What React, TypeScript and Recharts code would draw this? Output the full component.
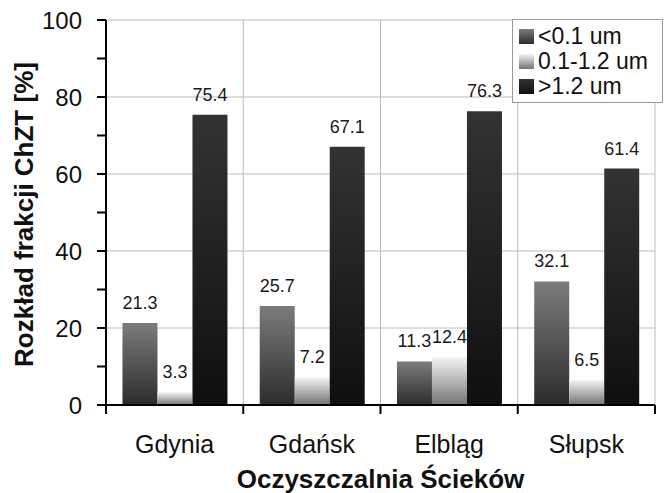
import React from "react";
import {
  Bar,
  BarChart,
  CartesianGrid,
  LabelList,
  Legend,
  XAxis,
  YAxis,
} from "recharts";

const plants = ["Gdynia", "Gdańsk", "Elbląg", "Słupsk"];
const fineShare = [21.3, 25.7, 11.3, 32.1];
const midShare = [3.3, 7.2, 12.4, 6.5];
const coarseShare = [75.4, 67.1, 76.3, 61.4];

const yTicks = [0, 10, 20, 30, 40, 50, 60, 70, 80, 90, 100];
const gridTicks = [20, 40, 60, 80, 100];
const Y_MAX = 100;

const SERIES = [
  { key: "fine", name: "<0.1 um", grad: "gFine" },
  { key: "mid", name: "0.1-1.2 um", grad: "gMid" },
  { key: "coarse", name: ">1.2 um", grad: "gCoarse" },
];

const FONT = '"Liberation Sans", Arial, sans-serif';
const PLOT_WIDTH = 665 - 106 - 10;

const data = plants.map((name, i) => ({
  name,
  fine: fineShare[i],
  mid: midShare[i],
  coarse: coarseShare[i],
}));

function LegendBox() {
  return (
    <div
      style={{
        border: "1px solid #999",
        background: "#fff",
        padding: "4px 0 0 6px",
        fontFamily: FONT,
        fontSize: 23,
        lineHeight: "25px",
        color: "#111",
        boxSizing: "border-box",
        width: 151,
        height: 84,
        textAlign: "left",
      }}
    >
      {SERIES.map((s) => (
        <div key={s.key} style={{ display: "flex", alignItems: "center" }}>
          <svg width={15} height={15} style={{ marginRight: 4 }}>
            <rect width={15} height={15} fill={`url(#${s.grad})`} />
          </svg>
          <span>{s.name}</span>
        </div>
      ))}
    </div>
  );
}

// category label at the band centre, tick mark at the band boundaries
function PlantTick(props: any) {
  const { x, y, payload, index } = props;
  const half = PLOT_WIDTH / plants.length / 2;
  const left = x - half;
  const right = x + half;
  return (
    <g>
      <path d={`M${left},${y}V${y + 9}`} stroke="#000" strokeWidth={2} fill="none" />
      {index === plants.length - 1 && (
        <path d={`M${right},${y}V${y + 9}`} stroke="#000" strokeWidth={2} fill="none" />
      )}
      <text x={x} y={y + 48} textAnchor="middle" fontFamily={FONT} fontSize={25} fill="#111">
        {payload.value}
      </text>
    </g>
  );
}

export default function App() {
  return (
    <div style={{ position: "absolute", left: 0, top: 0, background: "#fff" }}>
      <BarChart
        width={665}
        height={493}
        data={data}
        margin={{ top: 20, right: 10, bottom: 0, left: 0 }}
        barCategoryGap="12%"
        barGap={0}
      >
        <defs>
          <linearGradient id="gFine" x1="0" y1="0" x2="0" y2="1">
            <stop offset="0%" stopColor="#7c7c7c" />
            <stop offset="100%" stopColor="#2c2c2c" />
          </linearGradient>
          <linearGradient id="gMid" x1="0" y1="0" x2="0" y2="1">
            <stop offset="0%" stopColor="#f4f4f4" />
            <stop offset="100%" stopColor="#737373" />
          </linearGradient>
          <linearGradient id="gCoarse" x1="0" y1="0" x2="0" y2="1">
            <stop offset="0%" stopColor="#333333" />
            <stop offset="100%" stopColor="#0f0f0f" />
          </linearGradient>
        </defs>
        <CartesianGrid
          stroke="#bdbdbd"
          horizontalCoordinatesGenerator={({ yAxis, offset }: any) =>
            gridTicks.map((v) =>
              yAxis && typeof yAxis.scale === "function"
                ? yAxis.scale(v)
                : offset.top + offset.height * (1 - v / Y_MAX)
            )
          }
          verticalCoordinatesGenerator={({ offset }: any) =>
            [1, 2, 3, 4].map((i) => offset.left + (offset.width * i) / plants.length)
          }
        />
        <XAxis
          dataKey="name"
          height={88}
          interval={0}
          axisLine={{ stroke: "#000", strokeWidth: 2 }}
          tickLine={false}
          tickSize={0}
          tickMargin={0}
          tick={<PlantTick />}
          label={{
            content: (props: any) => {
              const vb = props.viewBox;
              return (
                <text
                  x={vb.x + vb.width / 2}
                  y={vb.y + 83}
                  textAnchor="middle"
                  fontFamily={FONT}
                  fontSize={26}
                  fontWeight="bold"
                  fill="#111"
                >
                  Oczyszczalnia Ścieków
                </text>
              );
            },
          }}
        />
        <YAxis
          width={106}
          domain={[0, Y_MAX]}
          ticks={yTicks}
          interval={0}
          tickSize={9}
          tickMargin={15}
          tickFormatter={(v: number) => (v % 20 === 0 ? String(v) : "")}
          tick={{ fontSize: 24, fill: "#111", fontFamily: FONT }}
          axisLine={{ stroke: "#000", strokeWidth: 2 }}
          tickLine={{ stroke: "#000", strokeWidth: 2 }}
          label={{
            content: (props: any) => {
              const vb = props.viewBox;
              const cx = 33;
              const cy = vb.y + vb.height / 2 + 2;
              return (
                <text
                  x={cx}
                  y={cy}
                  textAnchor="middle"
                  transform={`rotate(-90, ${cx}, ${cy})`}
                  fontFamily={FONT}
                  fontSize={26}
                  fontWeight="bold"
                  fill="#111"
                >
                  Rozkład frakcji ChZT [%]
                </text>
              );
            },
          }}
        />
        <Legend
          layout="horizontal"
          verticalAlign="middle"
          align="center"
          content={() => <LegendBox />}
          wrapperStyle={{ position: "absolute", left: 512, top: 19, width: 151, height: 84 }}
        />
        {SERIES.map((s) => (
          <Bar
            key={s.key}
            dataKey={s.key}
            name={s.name}
            fill={`url(#${s.grad})`}
            isAnimationActive={false}
          >
            <LabelList
              dataKey={s.key}
              position="top"
              offset={14}
              fontSize={18}
              fill="#1a1a1a"
              fontFamily={FONT}
            />
          </Bar>
        ))}
      </BarChart>
    </div>
  );
}
